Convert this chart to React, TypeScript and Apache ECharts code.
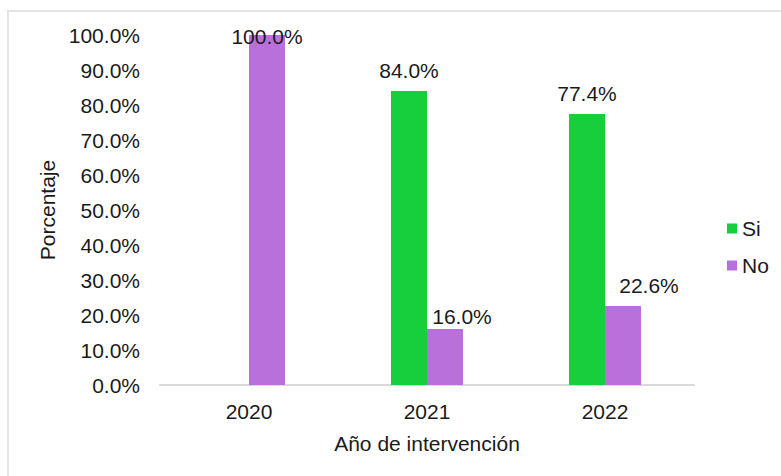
import React, { useEffect, useRef } from "react";
import * as echarts from "echarts";

const categories = ["2020", "2021", "2022"];
const siValues: (number | null)[] = [null, 84.0, 77.4];
const noValues: (number | null)[] = [100.0, 16.0, 22.6];
const seriesNames = ["Si", "No"];
const yTicks = { min: 0, max: 100, interval: 10 };

const FONT = "Liberation Sans";
const FS = 21;
const TXT = "#1a1a1a";

// manual label nudges (as in the reference)
const noLabelOffsets: [number, number][] = [
  [0, 22],
  [17, 8],
  [26, 0],
];

export default function App() {
  const ref = useRef<HTMLDivElement>(null);
  useEffect(() => {
    if (!ref.current) return;
    const chart = echarts.init(ref.current, null, { renderer: "svg" });
    const fmt = (v: number) => v.toFixed(1) + "%";
    chart.setOption({
      animation: false,
      backgroundColor: "#ffffff",
      textStyle: { fontFamily: FONT },
      graphic: [
        { type: "line", shape: { x1: 7, y1: 11, x2: 781, y2: 11 }, style: { stroke: "#e4e4e4", lineWidth: 2 } },
        { type: "line", shape: { x1: 8, y1: 11, x2: 8, y2: 476 }, style: { stroke: "#e4e4e4", lineWidth: 2 } },
      ],
      grid: { left: 160, right: 87, top: 35, bottom: 91 },
      legend: {
        orient: "vertical",
        left: 727,
        top: 218,
        padding: 0,
        itemWidth: 10,
        itemHeight: 10,
        itemGap: 16,
        icon: "rect",
        textStyle: { fontSize: FS, color: TXT, fontFamily: FONT, padding: [0, 0, 0, 0] },
        data: seriesNames,
      },
      xAxis: {
        type: "category",
        data: categories,
        name: "Año de intervención",
        nameLocation: "middle",
        nameGap: 48,
        nameTextStyle: { fontSize: FS, color: TXT, fontFamily: FONT },
        axisLine: { lineStyle: { color: "#d9d9d9", width: 2 } },
        axisTick: { show: false },
        axisLabel: { fontSize: FS, color: TXT, fontFamily: FONT, margin: 16 },
      },
      yAxis: {
        type: "value",
        min: yTicks.min,
        max: yTicks.max,
        interval: yTicks.interval,
        name: "Porcentaje",
        nameLocation: "middle",
        nameGap: 102,
        nameTextStyle: { fontSize: FS, color: TXT, fontFamily: FONT },
        axisLine: { show: false },
        axisTick: { show: false },
        splitLine: { show: false },
        axisLabel: { fontSize: FS, color: TXT, fontFamily: FONT, margin: 20, formatter: (v: number) => fmt(v) },
      },
      series: [
        {
          name: seriesNames[0],
          type: "bar",
          barWidth: 36,
          barGap: "0%",
          itemStyle: { color: "#17CE3D" },
          label: {
            show: true,
            position: "top",
            distance: 10,
            fontSize: FS,
            color: TXT,
            fontFamily: FONT,
            formatter: (p: any) => fmt(p.value),
          },
          data: siValues.map((v) => (v === null ? "-" : v)),
        },
        {
          name: seriesNames[1],
          type: "bar",
          barWidth: 36,
          barGap: "0%",
          itemStyle: { color: "#BA70DA" },
          label: {
            show: true,
            position: "top",
            distance: 10,
            fontSize: FS,
            color: TXT,
            fontFamily: FONT,
            formatter: (p: any) => fmt(p.value),
          },
          data: noValues.map((v, i) =>
            v === null ? "-" : { value: v, label: { offset: noLabelOffsets[i] } }
          ),
        },
      ],
    });
    return () => chart.dispose();
  }, []);
  return (
    <div
      ref={ref}
      style={{ position: "absolute", left: 0, top: 0, width: 781, height: 476 }}
    />
  );
}
